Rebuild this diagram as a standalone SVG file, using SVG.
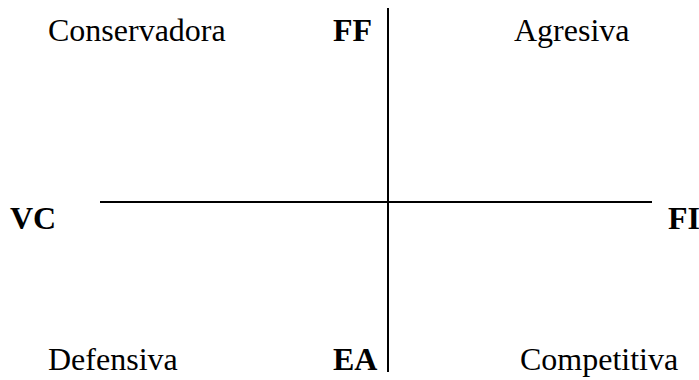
<svg xmlns="http://www.w3.org/2000/svg" width="699" height="380" viewBox="0 0 699 380">
<style>
.t{font-family:"Liberation Serif","Times New Roman",serif;font-size:32px;fill:#000}
.b{font-weight:bold}
.ax{stroke:#000;stroke-width:2;fill:none}
</style>
<rect width="699" height="380" fill="#fff"/>
<g id="axes">
<line class="ax" x1="388" y1="8" x2="388" y2="372"/>
<line class="ax" x1="100" y1="202" x2="652" y2="202"/>
</g>
<g id="conservadora"><text class="t" x="48" y="41">Conservadora</text></g>
<g id="ff"><text class="t b" x="333" y="41">FF</text></g>
<g id="agresiva"><text class="t" x="514" y="41">Agresiva</text></g>
<g id="vc"><text class="t b" x="10" y="229">VC</text></g>
<g id="fi"><text class="t b" x="668" y="229">FI</text></g>
<g id="defensiva"><text class="t" x="48" y="370">Defensiva</text></g>
<g id="ea"><text class="t b" x="333" y="370">EA</text></g>
<g id="competitiva"><text class="t" x="520" y="370">Competitiva</text></g>
</svg>
